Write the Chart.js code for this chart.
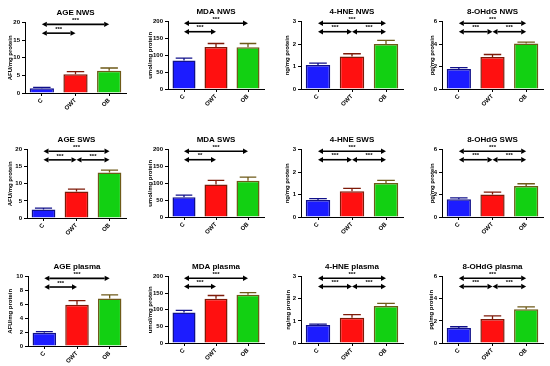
<!DOCTYPE html>
<html>
<head>
<meta charset="utf-8">
<script src="https://cdn.jsdelivr.net/npm/chart.js@4"></script>
<style>
  html, body { margin: 0; padding: 0; background: #fff; width: 550px; height: 366px; overflow: hidden; }
  canvas { position: absolute; }
</style>
</head>
<body>
<script>
// Dados
const categorias = ['C', 'OWT', 'OB'];
const titulos = ['AGE NWS', 'MDA NWS', '4-HNE NWS', '8-OHdG NWS',
                 'AGE SWS', 'MDA SWS', '4-HNE SWS', '8-OHdG SWS',
                 'AGE plasma', 'MDA plasma', '4-HNE plasma', '8-OHdG plasma'];
const unidades = ['AFU/mg protein', 'umol/mg protein', 'ng/mg protein', 'pg/mg protein'];
const medias = [
  [1.34, 5.3, 6.3], [84.6, 125, 124], [1.07, 1.45, 2.0], [1.79, 2.84, 4.06],
  [2.52, 7.77, 13.3], [58.7, 96.5, 107.5], [0.76, 1.15, 1.51], [1.58, 2.0, 2.75],
  [1.92, 5.96, 6.83], [92, 133, 145], [0.81, 1.14, 1.67], [1.35, 2.16, 3.06]
];
const erros = [
  [0.25, 0.75, 0.8], [7, 10, 11], [0.08, 0.12, 0.16], [0.12, 0.23, 0.12],
  [0.38, 0.68, 0.7], [6, 12, 11], [0.06, 0.12, 0.12], [0.12, 0.21, 0.21],
  [0.15, 0.58, 0.53], [6, 10, 7], [0.045, 0.14, 0.12], [0.12, 0.3, 0.21]
];
const eixoMax = [20, 200, 3, 6, 20, 200, 3, 6, 10, 200, 3, 6];
const eixoPasso = [5, 50, 1, 2, 5, 50, 1, 2, 2, 50, 1, 2];
// comparações: [grupo A, grupo B, texto, nível (1 = de cima)]
const duasSetas = (a) => [[0, 2, '***', 1], [0, 1, a, 0]];
const tresSetas = [[0, 2, '***', 1], [0, 1, '***', 0], [1, 2, '***', 0]];
const comparacoes = [
  duasSetas('***'), duasSetas('***'), tresSetas, tresSetas,
  tresSetas, duasSetas('**'), tresSetas, tresSetas,
  duasSetas('***'), duasSetas('***'), tresSetas, tresSetas
];

// posição de cada painel: [esquerda do canvas, topo do gráfico, largura eixo y, altura do gráfico, direita do gráfico]
const posicoes = [
  [7, 22.7, 18, 70.3, 126], [147, 22, 21, 67, 264], [284, 22, 17, 67, 403], [429, 22, 13, 67, 543],
  [7, 149.3, 20, 68.7, 126], [147, 149.3, 21, 67, 264], [284, 149.3, 17, 67, 403], [429, 149.3, 13, 67, 543],
  [7, 276.3, 21, 69.3, 126], [147, 276.3, 21, 66.7, 264], [285, 276.3, 16, 66.7, 403], [428, 276.3, 14, 66.7, 543]
];

const fonte = 'Liberation Sans';
const corBarra = ['#1c1cff', '#ff1010', '#12d012'];
const corBorda = ['#10108a', '#7e1a08', '#6e5a18'];
const ALTURA_TITULO = 21.6;
const ALTURA_X = 22;

function desenharSeta(ctx, x1, x2, y) {
  const ponta = 5, meia = 2.7;
  ctx.beginPath();
  ctx.moveTo(x1 + ponta, y);
  ctx.lineTo(x2 - ponta, y);
  ctx.stroke();
  ctx.beginPath();
  ctx.moveTo(x1, y); ctx.lineTo(x1 + ponta, y - meia); ctx.lineTo(x1 + ponta, y + meia);
  ctx.closePath(); ctx.fill();
  ctx.beginPath();
  ctx.moveTo(x2, y); ctx.lineTo(x2 - ponta, y - meia); ctx.lineTo(x2 - ponta, y + meia);
  ctx.closePath(); ctx.fill();
}

// Plugin com barras de erro e setas de significância
function criarExtras(i) {
  return {
    id: 'extras' + i,
    afterDatasetsDraw(chart) {
      const ctx = chart.ctx;
      const sx = chart.scales.x, sy = chart.scales.y;
      const meta = chart.getDatasetMeta(0);
      ctx.save();
      // barras de erro (só a parte de cima)
      meta.data.forEach((barra, k) => {
        const yTopo = sy.getPixelForValue(medias[i][k] + erros[i][k]);
        const meiaTampa = barra.width * 0.36;
        ctx.strokeStyle = corBorda[k];
        ctx.lineWidth = 1.3;
        ctx.beginPath();
        ctx.moveTo(barra.x, barra.y);
        ctx.lineTo(barra.x, yTopo);
        ctx.moveTo(barra.x - meiaTampa, yTopo);
        ctx.lineTo(barra.x + meiaTampa, yTopo);
        ctx.stroke();
      });
      // setas
      ctx.strokeStyle = '#000';
      ctx.fillStyle = '#000';
      ctx.lineWidth = 1.6;
      ctx.font = 'bold 6px "' + fonte + '"';
      ctx.textAlign = 'center';
      ctx.textBaseline = 'bottom';
      comparacoes[i].forEach(([a, b, texto, nivel]) => {
        const y = sy.getPixelForValue(eixoMax[i] * (nivel ? 0.975 : 0.85));
        const x1 = sx.getPixelForValue(a), x2 = sx.getPixelForValue(b);
        desenharSeta(ctx, x1, x2, y);
        ctx.fillText(texto, (x1 + x2) / 2, y - 1);
      });
      ctx.restore();
    }
  };
}

titulos.forEach((titulo, i) => {
  const [esq, topo, largY, altura, dir] = posicoes[i];
  const canvas = document.createElement('canvas');
  const largura = Math.round(dir - esq + 2);
  const alturaCanvas = Math.round(ALTURA_TITULO + altura + ALTURA_X);
  canvas.width = largura;
  canvas.height = alturaCanvas;
  canvas.style.left = esq + 'px';
  canvas.style.top = (topo - ALTURA_TITULO) + 'px';
  canvas.style.width = largura + 'px';
  canvas.style.height = alturaCanvas + 'px';
  document.body.appendChild(canvas);

  new Chart(canvas, {
    type: 'bar',
    data: {
      labels: categorias,
      datasets: [{
        data: medias[i],
        backgroundColor: corBarra,
        borderColor: corBorda,
        borderWidth: 1.5,
        barPercentage: 0.72,
        categoryPercentage: 1
      }]
    },
    options: {
      responsive: false,
      animation: false,
      devicePixelRatio: 1,
      layout: { padding: { left: 0, right: 2, top: 0, bottom: 0 } },
      plugins: {
        legend: { display: false },
        tooltip: { enabled: false },
        title: {
          display: true,
          text: titulo,
          color: '#000',
          fullSize: false,
          font: { family: fonte, size: 8, weight: 'bold' },
          padding: { top: 7, bottom: 5 }
        }
      },
      scales: {
        x: {
          grid: { display: true, drawOnChartArea: false, offset: false, color: '#000', tickLength: 3 },
          border: { color: '#000', width: 1 },
          ticks: {
            color: '#000', padding: 1, minRotation: 45, maxRotation: 45,
            font: { family: fonte, size: 6, weight: 'bold' }
          },
          afterFit: s => { s.height = ALTURA_X; }
        },
        y: {
          min: 0,
          max: eixoMax[i],
          ticks: {
            stepSize: eixoPasso[i], color: '#000', padding: 2,
            font: { family: fonte, size: 6, weight: 'bold' }
          },
          grid: { display: true, drawOnChartArea: false, color: '#000', tickLength: 3 },
          border: { color: '#000', width: 1 },
          title: {
            display: true,
            text: unidades[i % 4],
            color: '#000',
            font: { family: fonte, size: 6, weight: 'bold' },
            padding: { top: 0, bottom: 1 }
          },
          afterFit: s => { s.width = largY; }
        }
      }
    },
    plugins: [criarExtras(i)]
  });
});
</script>
</body>
</html>
